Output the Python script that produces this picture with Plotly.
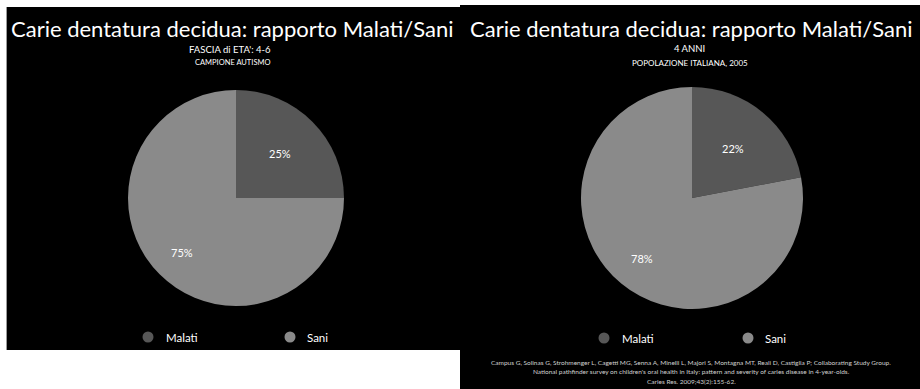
import math
import plotly.graph_objects as go

W, H = 920, 389

# Data
labels = ["Malati", "Sani"]
autism_pct = [25, 75]        # FASCIA di ETA' 4-6, campione autismo
italy_pct = [22, 78]         # 4 anni, popolazione italiana 2005
slice_colors = ["#575757", "#8a8a8a"]

title_text = "Carie dentatura decidua: rapporto Malati/Sani"
left_sub = ["FASCIA di ETA': 4-6", "CAMPIONE AUTISMO"]
right_sub = ["4 ANNI", "POPOLAZIONE ITALIANA, 2005"]
citation = [
    "Campus G, Solinas G, Strohmenger L, Cagetti MG, Senna A, Minelli L, Majori S, Montagna MT, Reali D, Castiglia P; Collaborating Study Group.",
    "National pathfinder survey on children's oral health in Italy: pattern and severity of caries disease in 4-year-olds.",
    "Caries Res. 2009;43(2):155-62.",
]

FONT = "Lato"


def px_x(x):
    return x / W


def px_y(y):
    return 1 - y / H


annotations = []


def text(x, y, s, size, color="white", xanchor="center"):
    annotations.append(dict(
        x=px_x(x), y=px_y(y), xref="paper", yref="paper", text=s, showarrow=False,
        xanchor=xanchor, yanchor="middle",
        font=dict(family=FONT, size=size, color=color),
    ))


def pie(values, cx, cy, r):
    domain = dict(x=[px_x(cx - r), px_x(cx + r)], y=[px_y(cy + r), px_y(cy - r)])
    fig.add_trace(go.Pie(
        labels=labels,
        values=values,
        sort=False,
        direction="clockwise",
        rotation=0,
        domain=domain,
        marker=dict(colors=slice_colors, line=dict(width=0)),
        textinfo="none",
        hoverinfo="label+percent",
        showlegend=False,
    ))
    # percentage labels placed along each slice's bisector
    total = sum(values)
    start = 0.0
    for v in values:
        frac = v / total
        mid = (start + frac / 2) * 2 * math.pi
        dist = r * (0.58 if frac < 0.5 else 0.71)
        text(cx + dist * math.sin(mid), cy - dist * math.cos(mid), f"{v}%", 11)
        start += frac


fig = go.Figure()
pie(autism_pct, 236, 198, 108)
pie(italy_pct, 692, 198, 111)

shapes = [
    # black slide panels
    dict(type="rect", xref="paper", yref="paper", x0=px_x(7), x1=px_x(460),
         y0=px_y(350), y1=px_y(7), fillcolor="black", line=dict(width=0), layer="below"),
    dict(type="rect", xref="paper", yref="paper", x0=px_x(460), x1=1,
         y0=0, y1=px_y(5), fillcolor="black", line=dict(width=0), layer="below"),
    dict(type="line", xref="paper", yref="paper", x0=px_x(6.5), x1=px_x(6.5),
         y0=px_y(350), y1=px_y(7), line=dict(color="#9a9a9a", width=1)),
]

# titles
text(232, 29, title_text, 22)
text(230, 49, left_sub[0], 9.5)
text(232, 63, left_sub[1], 7.5)
text(691, 28, title_text, 22)
text(689, 48, right_sub[0], 9.5)
text(690, 63, right_sub[1], 8)


# legends
def legend(items, y):
    for (mx, tx), lab, col in items:
        shapes.append(dict(
            type="circle", xref="paper", yref="paper",
            xsizemode="pixel", ysizemode="pixel",
            xanchor=px_x(mx), yanchor=px_y(y),
            x0=-5.5, x1=5.5, y0=-5.5, y1=5.5,
            fillcolor=col, line=dict(width=0),
        ))
        text(tx, y, lab, 11.5, xanchor="left")


legend(list(zip([(148, 164), (290, 305)], labels, slice_colors)), 337)
legend(list(zip([(604, 620), (748, 763)], labels, slice_colors)), 338)

# reference
for i, line in enumerate(citation):
    text(691, 362 + i * 9.5, line, 6.5, color="#d0d0d0")

fig.update_layout(
    width=W, height=H,
    margin=dict(l=0, r=0, t=0, b=0),
    paper_bgcolor="white",
    plot_bgcolor="white",
    shapes=shapes,
    annotations=annotations,
    showlegend=False,
)

fig.write_html("out.html")
